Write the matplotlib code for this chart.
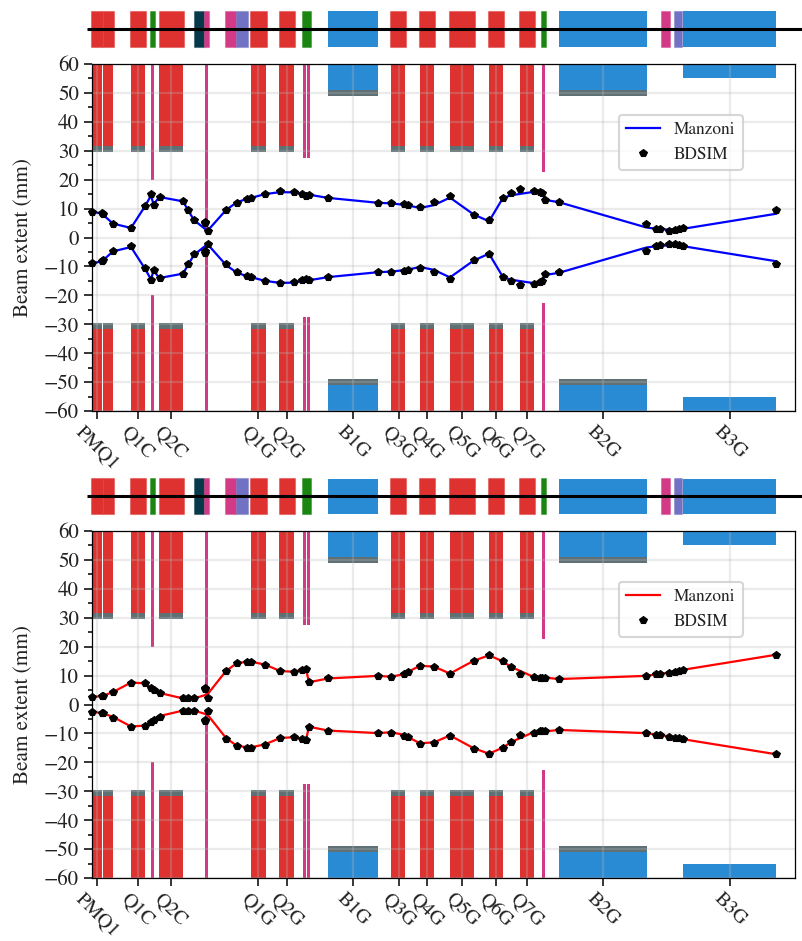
import matplotlib
matplotlib.use("Agg")
import matplotlib.pyplot as plt
from matplotlib.patches import Rectangle
from matplotlib.ticker import MultipleLocator

plt.rcParams['font.family'] = ['STIXGeneral', 'Liberation Serif', 'DejaVu Serif']
plt.rcParams['mathtext.fontset'] = 'stix'

# --- data ---
tick_pos = [5, 46, 79, 166, 195, 261, 307, 335, 370, 404, 435, 511, 638]
tick_names = ['PMQ1', 'Q1C', 'Q2C', 'Q1G', 'Q2G', 'B1G', 'Q3G', 'Q4G', 'Q5G', 'Q6G', 'Q7G', 'B2G', 'B3G']

s_bdsim = [0, 10, 11, 21, 39, 53, 59, 61.5, 67.5, 91, 96, 102, 112.5, 113, 115.5, 134, 144.5, 155, 159, 173,
           188, 202, 210, 214, 217, 236, 286, 299, 312, 316, 328, 342, 358, 381.5, 397, 411, 419, 428, 442,
           448, 449.5, 453, 467, 554, 564, 568, 577, 583, 587, 591, 684]
x_up = [8.9, 8.3, 8.0, 4.6, 3.2, 10.8, 14.9, 11.3, 14.1, 12.5, 9.5, 6.0, 5.0, 5.4, 2.4, 9.5, 12.1, 13.4, 13.7, 15.1,
        16.0, 15.6, 14.9, 14.3, 14.8, 13.6, 12.1, 12.1, 11.6, 11.4, 10.7, 12.2, 14.3, 7.7, 5.9, 13.7, 15.5, 16.6, 16.1,
        15.6, 15.5, 12.8, 12.3, 4.7, 3.1, 2.9, 2.4, 2.7, 3.0, 3.2, 9.5]
x_lo = [-8.9, -8.1, -7.9, -4.5, -3.1, -10.7, -14.6, -11.2, -14.0, -12.5, -9.3, -5.7, -5.3, -4.7, -2.1, -9.1, -12.0, -13.4, -13.7, -14.9,
        -15.8, -15.5, -14.6, -14.2, -14.6, -13.5, -12.0, -12.0, -11.6, -11.3, -10.6, -12.0, -14.2, -7.7, -5.7, -13.6, -15.2, -16.5, -16.0,
        -15.5, -15.2, -12.6, -12.1, -4.6, -2.9, -2.7, -2.2, -2.4, -2.7, -3.0, -9.3]
y_up = [2.5, 2.8, 3.0, 4.3, 7.6, 7.3, 5.7, 5.1, 4.0, 2.1, 2.1, 2.1, 5.3, 5.7, 2.4, 11.6, 14.2, 14.8, 14.8, 13.8,
        11.6, 11.3, 12.0, 12.2, 7.7, 9.0, 9.9, 9.6, 10.5, 11.3, 13.4, 13.1, 10.7, 15.1, 17.0, 14.9, 13.0, 10.6, 9.5,
        9.3, 9.3, 9.3, 8.8, 9.7, 10.4, 10.6, 11.0, 11.3, 11.6, 11.9, 17.0]
y_lo = [-2.7, -3.0, -3.0, -4.5, -7.7, -7.4, -5.9, -5.3, -4.2, -2.2, -2.1, -2.1, -5.3, -5.8, -2.4, -11.8, -14.2, -14.9, -14.9, -14.0,
        -11.7, -11.4, -12.0, -12.3, -7.8, -9.1, -10.0, -9.7, -10.8, -11.4, -13.5, -13.4, -11.0, -15.3, -17.2, -14.9, -13.1, -10.7, -9.7,
        -9.3, -9.3, -9.3, -8.9, -9.8, -10.4, -10.6, -11.2, -11.5, -11.6, -11.9, -17.0]

s_manz = [0, 10, 21, 39, 53, 59, 61.5, 67.5, 91, 96, 102, 115.5, 134, 144.5, 155, 159, 173,
          188, 202, 210, 214, 217, 236, 286, 299, 312, 316, 328, 342, 358, 381.5, 397, 411, 419, 442,
          449.5, 453, 467, 554, 564, 577, 591, 684]
mx_up = [9.0, 8.2, 4.8, 3.3, 10.8, 14.5, 11.5, 14.0, 12.5, 9.5, 6.0, 2.3, 9.5, 12.1, 13.4, 13.7, 15.0,
         15.7, 15.6, 15.0, 14.4, 14.8, 13.7, 12.0, 11.8, 11.3, 11.1, 10.2, 11.2, 13.8, 8.0, 5.6, 13.7, 14.6, 15.8,
         15.7, 13.0, 12.2, 3.5, 3.0, 2.7, 3.0, 8.2]
mx_lo = [-9.0, -8.2, -4.8, -3.3, -10.8, -14.5, -11.5, -14.0, -12.5, -9.5, -6.0, -2.3, -9.5, -12.1, -13.4, -13.7, -15.0,
         -15.7, -15.6, -15.0, -14.4, -14.8, -13.7, -12.0, -11.8, -11.3, -11.1, -10.2, -11.2, -13.8, -8.0, -5.6, -13.7, -14.6, -15.8,
         -15.7, -13.0, -12.2, -3.5, -3.0, -2.7, -3.0, -8.2]
my_up = [2.6, 2.9, 4.3, 7.6, 7.3, 5.7, 5.1, 4.0, 2.1, 2.1, 2.1, 3.5, 11.6, 14.2, 14.8, 14.8, 13.8,
         11.6, 11.3, 12.0, 12.2, 7.7, 9.0, 9.9, 9.6, 10.5, 11.3, 13.4, 13.1, 10.7, 15.1, 17.0, 14.9, 13.0, 9.5,
         9.3, 9.3, 8.8, 9.9, 10.4, 11.0, 12.0, 17.2]
my_lo = [-2.6, -2.9, -4.3, -7.6, -7.3, -5.7, -5.1, -4.0, -2.1, -2.1, -2.1, -3.5, -11.6, -14.2, -14.8, -14.8, -13.8,
         -11.6, -11.3, -12.0, -12.2, -7.7, -9.0, -9.9, -9.6, -10.5, -11.3, -13.4, -13.1, -10.7, -15.1, -17.0, -14.9, -13.0, -9.5,
         -9.3, -9.3, -8.8, -9.9, -10.4, -11.0, -12.0, -17.2]

# aperture elements (start, end, inner half aperture)
quads = [(0, 10), (11, 21), (39, 53), (67, 79), (79, 91), (159, 174), (187, 202), (299, 313), (328, 342), (358, 370),
         (370, 382), (397, 411), (428, 442)]
quad_ap = [31.8, 29.7]
bends = [(236, 286, 51.0, 49.0), (467, 555, 51.0, 49.0)]
bend3 = (591, 684, 55.0)
colls = [(59, 62, 20.0), (113, 116, 2.0), (211, 214, 27.5), (215, 218, 27.5), (450, 453, 22.5)]

# beamline strip
st_red = [(-1.5, 10.5), (10.5, 22), (38, 54), (66.5, 92), (158, 175), (187, 203), (298, 314), (327, 343),
          (357, 383), (396, 412), (427, 443)]
st_green = [(58, 63), (210, 219), (449, 454)]
st_dark = [(102, 112)]
st_pink = [(112, 117), (133, 144), (568.5, 578)]
st_purple = [(144, 156), (582, 590)]
st_blue = [(236, 286), (467, 555), (591, 684)]

RED = '#dd3230'
BLUE = '#2a8bd5'
GREY = '#5f7075'
PINK = '#d23a85'
PURPLE = '#7272c4'
GREEN = '#1a8510'
DARK = '#05394a'

W, H = 802, 941
fig = plt.figure(figsize=(W / 100, H / 100), dpi=100)


def px_axes(x0, x1, y0, y1):
    return fig.add_axes([x0 / W, 1 - y1 / H, (x1 - x0) / W, (y1 - y0) / H])


def strip(yc):
    ax = px_axes(87, 802, yc - 21, yc + 21)
    ax.set_xlim(-5, 710)
    ax.set_ylim(-21, 21)
    ax.axis('off')
    for group, color, hh in [(st_red, RED, 18.0), (st_green, GREEN, 18.0), (st_dark, DARK, 18.0),
                             (st_pink, PINK, 18.0), (st_purple, PURPLE, 18.0), (st_blue, BLUE, 17.5)]:
        for a, b in group:
            edge = matplotlib.colors.to_rgba(color, 0.4) if color != BLUE else 'none'
            ax.add_patch(Rectangle((a, -hh), b - a, 2 * hh, facecolor=color, edgecolor=edge, lw=0.8))
    ax.plot([-5, 710], [0, 0], color='k', lw=2.2, zorder=5, solid_capstyle='butt')


def main(y0, y1, line_color, up, lo, mup, mlo):
    ax = px_axes(92, 795, y0, y1)
    ax.set_xlim(0, 703)
    ax.set_ylim(-60, 60)
    for sign in (1, -1):
        for a, b in quads:
            ax.add_patch(Rectangle((a, sign * quad_ap[0]), b - a, sign * (60 - quad_ap[0]), facecolor=RED, lw=0, zorder=1))
            ax.add_patch(Rectangle((a, sign * quad_ap[1]), b - a, sign * (quad_ap[0] - quad_ap[1]), facecolor=GREY, lw=0, zorder=1))
        for a, b, i, j in bends:
            ax.add_patch(Rectangle((a, sign * i), b - a, sign * (60 - i), facecolor=BLUE, lw=0, zorder=1))
            ax.add_patch(Rectangle((a, sign * j), b - a, sign * (i - j), facecolor=GREY, lw=0, zorder=1))
        a, b, i = bend3
        ax.add_patch(Rectangle((a, sign * i), b - a, sign * (60 - i), facecolor=BLUE, lw=0, zorder=1))
        for a, b, i in colls:
            ax.add_patch(Rectangle((a, sign * i), b - a, sign * (60 - i), facecolor=PINK, lw=0, zorder=1))
    ax.grid(True, color='#b8b8b8', alpha=0.28, lw=1.6)
    ax.plot(s_manz, mup, color=line_color, lw=1.6, label='Manzoni', zorder=3)
    ax.plot(s_manz, mlo, color=line_color, lw=1.6, zorder=3)
    ax.plot(s_bdsim, up, ls='none', marker='p', ms=6, mfc='k', mec='k', mew=0.8, label='BDSIM', zorder=4, clip_on=False)
    ax.plot(s_bdsim, lo, ls='none', marker='p', ms=6, mfc='k', mec='k', mew=0.8, zorder=4, clip_on=False)
    ax.yaxis.set_major_locator(MultipleLocator(10))
    ax.yaxis.set_minor_locator(MultipleLocator(5))
    ax.set_xticks(tick_pos)
    ax.set_xticklabels(tick_names, rotation=-45, ha='center', rotation_mode='default')
    ax.tick_params(axis='y', which='major', length=6, width=1.1, labelsize=15, pad=3.5, labelcolor='#222222')
    ax.tick_params(axis='x', which='major', length=6, width=1.1, labelsize=14.5, pad=2.5, labelcolor='#222222')
    ax.tick_params(axis='y', which='minor', length=3, width=1.1)
    for sp in ax.spines.values():
        sp.set_linewidth(0.9)
    ax.set_ylabel('Beam extent (mm)', fontsize=15.2, color='#222222')
    ax.yaxis.set_label_coords((33 - 92) / 703, 0.5)
    leg = ax.legend(loc='upper left', bbox_to_anchor=(527 / 703, 1 - 51 / 347), borderaxespad=0, fontsize=12.4,
                    framealpha=0.8, edgecolor='#cccccc', fancybox=True)
    leg.get_frame().set_linewidth(1.5)
    for t in leg.get_texts():
        t.set_color('#222222')
    return ax


strip(29)
strip(496)
main(64, 411, '#0000ff', x_up, x_lo, mx_up, mx_lo)
main(531, 878, '#ff0000', y_up, y_lo, my_up, my_lo)
fig.savefig('out.png', dpi=100)
